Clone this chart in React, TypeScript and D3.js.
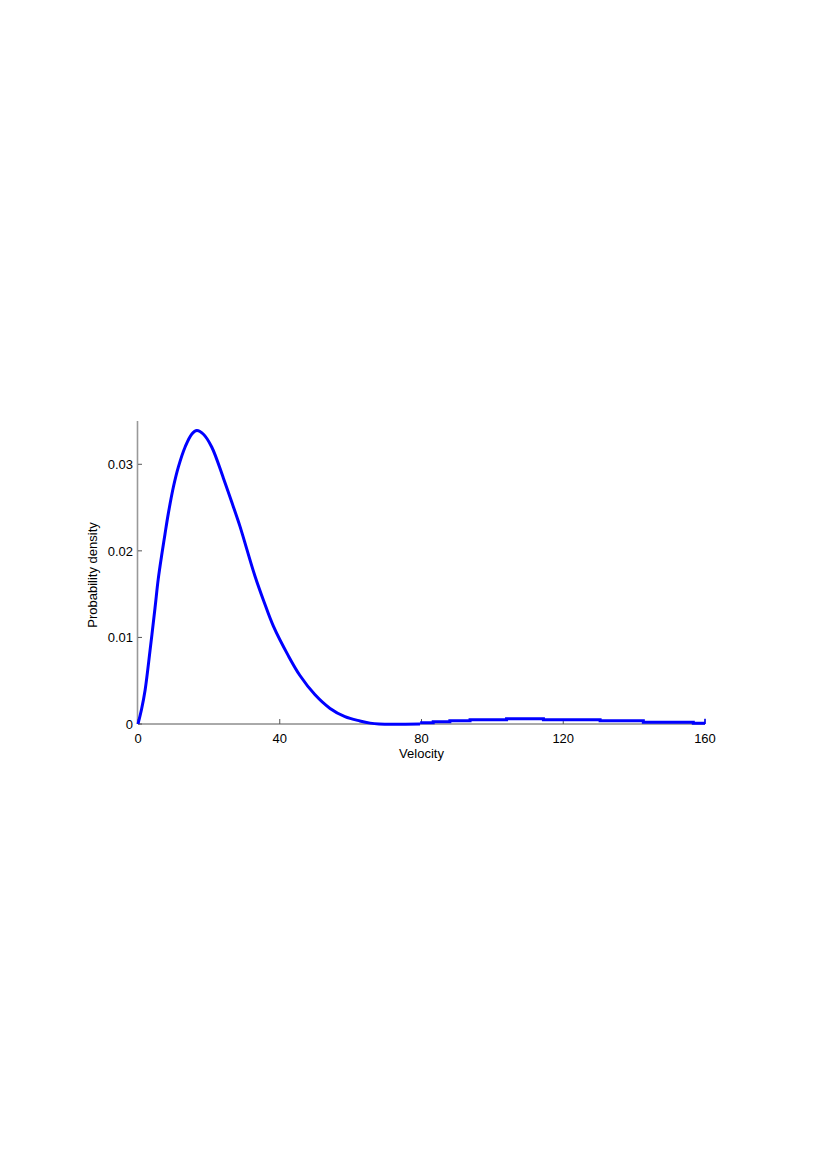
import React from "react";
import * as d3 from "d3";

// Smooth part of the density curve (velocity, density)
const peakVelocity = [0, 1.0, 2.0, 3.4, 4.8, 5.7, 6.8, 7.6, 8.55, 10.0, 11.4, 13.3, 15.2, 16.6, 18.4, 20.8, 24.1, 26.4, 28.8, 30.7, 33.0, 35.4, 38.2, 42.4, 45.7, 49.9, 54.2, 58.4, 62.6, 65.5, 68.0, 79.6];
const peakDensity = [0, 0.0017, 0.0039, 0.0085, 0.0134, 0.0167, 0.0198, 0.0219, 0.0243, 0.0274, 0.0297, 0.0320, 0.0335, 0.0339, 0.0335, 0.0320, 0.0284, 0.0257, 0.0228, 0.0202, 0.0171, 0.0143, 0.0113, 0.0079, 0.0056, 0.0034, 0.0018, 0.00085, 0.00035, 0.0001, 0, 0];

// Stepped tail (step start velocity, density)
const tailVelocity = [79.6, 83.3, 88.0, 93.7, 104.0, 114.4, 130.4, 142.6, 156.7, 160];
const tailDensity = [0.00014, 0.00025, 0.00037, 0.00048, 0.0006, 0.00048, 0.00037, 0.0002, 0.0001, 0.0001];

const xTicks = [0, 40, 80, 120, 160];
const yTicks = [0, 0.01, 0.02, 0.03];
const xTickLabels = ["0", "40", "80", "120", "160"];
const yTickLabels = ["0", "0.01", "0.02", "0.03"];

export default function App() {
  const x = d3.scaleLinear().domain([0, 160]).range([138, 705]);
  const y = d3.scaleLinear().domain([0, 0.035]).range([724, 421]);

  const peak = peakVelocity.map((v, i) => [v, peakDensity[i]] as [number, number]);
  const tail = tailVelocity.map((v, i) => [v, tailDensity[i]] as [number, number]);

  const smoothLine = d3
    .line<[number, number]>()
    .x((d) => x(d[0]))
    .y((d) => Math.min(y(0), y(d[1])))
    .curve(d3.curveCatmullRom.alpha(0.5));
  const stepLine = d3
    .line<[number, number]>()
    .x((d) => x(d[0]))
    .y((d) => y(d[1]))
    .curve(d3.curveStepAfter);

  const font = "'Liberation Sans', Arial, Helvetica, sans-serif";
  const fs = 13;

  return (
    <svg
      width={817}
      height={1157}
      style={{ position: "absolute", left: 0, top: 0, background: "#fff" }}
      fontFamily={font}
    >
      {/* axes */}
      <line x1={x(0)} x2={x(160)} y1={y(0)} y2={y(0)} stroke="#555" strokeWidth={1} />
      <line x1={x(0) - 0.5} x2={x(0) - 0.5} y1={y(0.035)} y2={y(0)} stroke="#999" strokeWidth={1.6} />
      {xTicks.map((t, i) => (
        <g key={"x" + t}>
          <line x1={x(t)} x2={x(t)} y1={y(0)} y2={y(0) - 5} stroke="#555" strokeWidth={1} />
          <text x={x(t)} y={y(0) + 18.5} textAnchor="middle" fontSize={fs} fill="#000">
            {xTickLabels[i]}
          </text>
        </g>
      ))}
      {yTicks.map((t, i) => (
        <g key={"y" + t}>
          <line x1={x(0)} x2={x(0) + 4} y1={y(t)} y2={y(t)} stroke="#555" strokeWidth={1} />
          <text x={x(0) - 5} y={y(t) + 4.8} textAnchor="end" fontSize={fs} fill="#000">
            {yTickLabels[i]}
          </text>
        </g>
      ))}
      <text x={(x(0) + x(160)) / 2} y={y(0) + 33.5} textAnchor="middle" fontSize={fs} fill="#000">
        Velocity
      </text>
      <text
        transform={`translate(${96.5},${575}) rotate(-90)`}
        textAnchor="middle"
        fontSize={fs}
        fill="#000"
      >
        Probability density
      </text>
      {/* curve */}
      <path d={smoothLine(peak) || ""} fill="none" stroke="#0000ff" strokeWidth={3} strokeLinejoin="round" />
      <path d={stepLine(tail) || ""} fill="none" stroke="#0000ff" strokeWidth={3} />
      <line x1={x(160)} x2={x(160)} y1={y(0)} y2={y(0.0006)} stroke="#0000ff" strokeWidth={1.5} />
    </svg>
  );
}
